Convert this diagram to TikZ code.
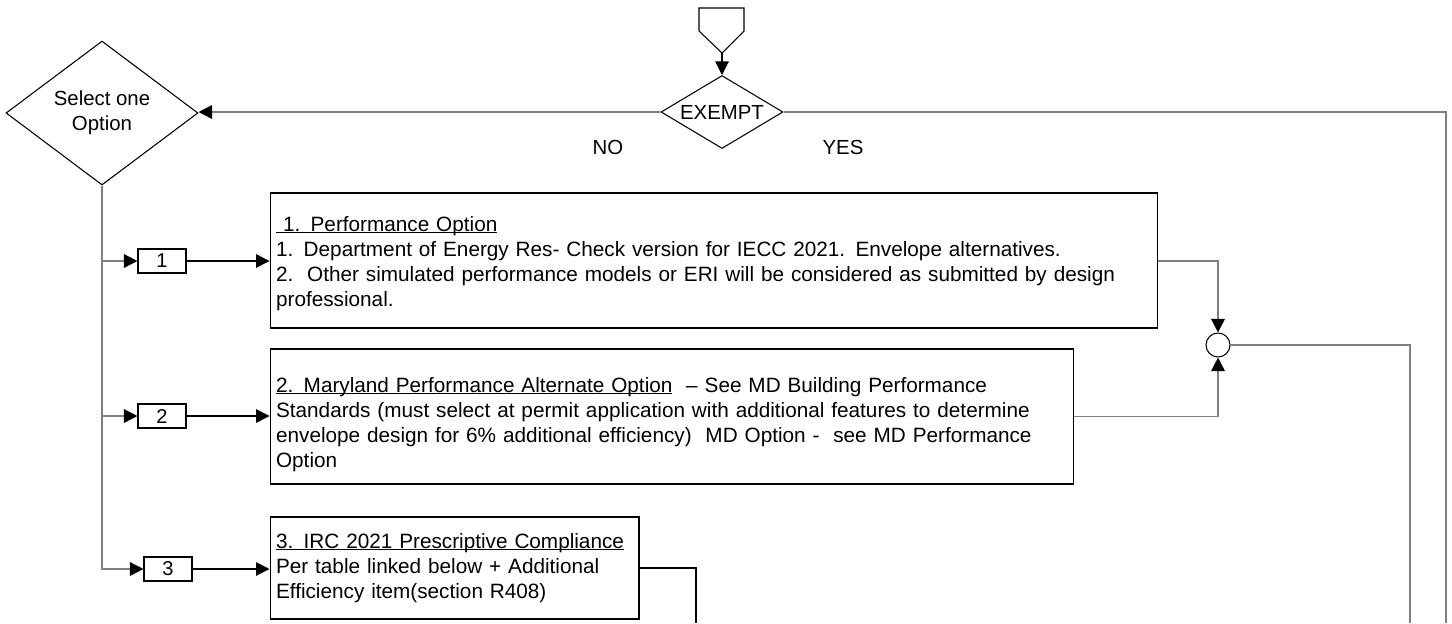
\documentclass[tikz,border=0pt]{standalone}
\usepackage{fontspec}
\setmainfont{Liberation Sans}
\newcommand{\ulbar}[1]{\setbox0=\hbox{#1}\rlap{\rule[-0.045cm]{\wd0}{0.55pt}}\box0}

\definecolor{linegray}{RGB}{128,128,128}

\tikzstyle{decision} = [diamond, draw, inner sep=0pt, align=center, font=\fontsize{11.6}{14.2}\selectfont]
\tikzstyle{numbox} = [rectangle, draw, minimum width=0.96cm, minimum height=0.48cm, inner sep=0pt, font=\fontsize{11.4}{12}\selectfont]
\tikzstyle{optbox} = [rectangle, draw, align=left, inner xsep=0.12cm, inner ysep=0pt, text height=0.3cm, font=\fontsize{11.8}{14.3}\selectfont]
\tikzstyle{lbl} = [inner sep=0pt, font=\fontsize{11.6}{13}\selectfont]
\tikzstyle{arrow} = [draw, -{Triangle[length=0.27cm,width=0.27cm,color=black]}]
\tikzstyle{line} = [draw, color=linegray, line width=0.8pt]
\usetikzlibrary{positioning}
\usetikzlibrary{shapes.geometric}
\usetikzlibrary{arrows.meta}

\begin{document}
\begin{tikzpicture}[x=0.02cm, y=-0.02cm, line width=0.6pt]
    \useasboundingbox (0,0) rectangle (1452,623);

    % off-page connector on top
    \draw (699,8) -- (744,8) -- (744,31) -- (722,53) -- (699,31) -- cycle;
    \coordinate (entry) at (722,53);

    \node [decision, aspect=1.67, minimum width=2.44cm, minimum height=1.46cm] (exempt) at (722,112) {EXEMPT};
    \node [decision, minimum width=3.84cm, minimum height=2.88cm] (select) at (102,113) {Select one\\Option};
    \node [lbl] (no) at (608,147) {NO};
    \node [lbl] (yes) at (843,147) {YES};

    \node [numbox] (num1) at (162,261) {1};
    \node [numbox] (num2) at (162,416) {2};
    \node [numbox] (num3) at (168,569) {3};

    \node [optbox, text width=17.52cm, minimum height=2.7cm, text depth=1.48cm] (opt1) at (714,260.5) {\ulbar{\ 1. Performance Option}\\
        1. Department of Energy Res- Check version for IECC 2021. Envelope alternatives.\\
        2.\ \ Other simulated performance models or ERI will be considered as submitted by design\\
        professional.};
    \node [optbox, text width=15.84cm, minimum height=2.7cm, text depth=1.28cm] (opt2) at (672,416.5) {\ulbar{2. Maryland Performance Alternate Option}\ \ – See MD Building Performance\\
        Standards (must select at permit application with additional features to determine\\
        envelope design for 6\% additional efficiency)\ \ MD Option -\ \ see MD Performance\\
        Option};
    \node [optbox, text width=7.14cm, minimum height=2.04cm, text depth=1.1cm] (opt3) at (454.5,568) {\ulbar{3. IRC 2021 Prescriptive Compliance}\\
        Per table linked below + Additional\\
        Efficiency item(section R408)};

    \node [circle, draw, minimum size=0.48cm, inner sep=0pt] (join) at (1218,345) {};

    \coordinate (yesend) at (1446,623);
    \coordinate (joinend) at (1410,623);
    \coordinate (optend) at (696,623);

    \draw [arrow] (entry) -- (exempt.north);
    \draw [line, arrow] (exempt.west) -- (exempt.west -| select.east);
    \draw [line] (exempt.east) -| (yesend);

    \draw [line, arrow] (select.south) |- (num3.west);
    \draw [line, arrow] (select.south |- num1.west) -- (num1.west);
    \draw [line, arrow] (select.south |- num2.west) -- (num2.west);

    \draw [arrow] (num1.east) -- (num1.east -| opt1.west);
    \draw [arrow] (num2.east) -- (num2.east -| opt2.west);
    \draw [arrow] (num3.east) -- (num3.east -| opt3.west);

    \draw [line, arrow] (num1.east -| opt1.east) -| (join.north);
    \draw [line, arrow] (opt2.east) -| (join.south);
    \draw [line] (join.east) -| (joinend);
    \draw (opt3.east) -| (optend);
\end{tikzpicture}
\end{document}
